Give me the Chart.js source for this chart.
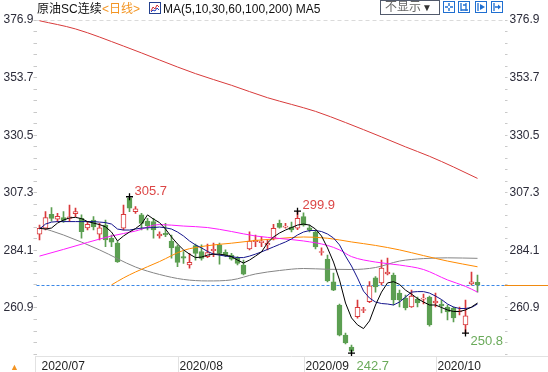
<!DOCTYPE html>
<html>
<head>
<meta charset="utf-8">
<script src="https://cdn.jsdelivr.net/npm/chart.js@4.4.0/dist/chart.umd.min.js"></script>
<style>
  html, body { margin: 0; padding: 0; background: #fff; }
  #wrap { position: relative; width: 548px; height: 372px; overflow: hidden;
          font-family: "Liberation Sans", Arial, "Noto Sans CJK SC", sans-serif; font-size: 12px; }
  #c { position: absolute; left: 0; top: 0; }
  .t { position: absolute; top: 2px; line-height: 14px; white-space: nowrap; color: #111; }
  .ico { position: absolute; top: 1px; }
  #sel { position: absolute; left: 380px; top: 0; width: 58px; height: 13px; border: 1px solid #525a6c;
         line-height: 13px; font-size: 12px; color: #666; white-space: nowrap; box-sizing: content-box; }
</style>
</head>
<body>
<div id="wrap">
  <canvas id="c" width="548" height="372"></canvas>

  <!-- titre + légende des moyennes -->
  <span class="t" style="left:37px">原油SC连续</span>
  <span class="t" style="left:102px;color:#f39422">&lt;日线&gt;</span>
  <svg class="ico" style="left:149px;top:2px" width="12" height="12" viewBox="0 0 12 12">
    <rect x="0.5" y="0.5" width="11" height="11" fill="#fff" stroke="#23408e"/>
    <polyline points="2,9 4,5 6,7 8,3 10,5" fill="none" stroke="#d03030" stroke-width="1"/>
    <polyline points="2,10 4,8 6,9 8,6 10,8" fill="none" stroke="#2040c0" stroke-width="1"/>
  </svg>
  <span class="t" style="left:163px">MA(5,10,30,60,100,200) MA5</span>

  <!-- boutons en haut à droite -->
  <div id="sel"><span style="margin-left:4px">不显示</span><span style="font-size:10px;color:#333;margin-left:1px">▼</span></div>
  <svg class="ico" style="left:443px" width="12" height="12" viewBox="0 0 12 12">
    <rect x="0.5" y="0.5" width="11" height="11" fill="#fff" stroke="#1f6fd1"/>
    <path d="M6 2V5M6 7V10M2 6H5M7 6H10" stroke="#1f6fd1" stroke-width="1.4"/>
  </svg>
  <svg class="ico" style="left:458px" width="12" height="12" viewBox="0 0 12 12">
    <rect x="0.5" y="0.5" width="11" height="11" fill="#fff" stroke="#1f6fd1"/>
    <path d="M3 2V10M8 2V10M3 9H10M5 4H8" stroke="#1f6fd1" stroke-width="1.3"/>
  </svg>
  <svg class="ico" style="left:475px" width="12" height="12" viewBox="0 0 12 12">
    <rect x="0.5" y="0.5" width="11" height="11" fill="#fff" stroke="#1f6fd1"/>
    <path d="M3 2V10" stroke="#1f6fd1" stroke-width="1.3"/><path d="M5 3L10 6L5 9Z" fill="#1f6fd1"/>
  </svg>
  <svg class="ico" style="left:491px" width="12" height="12" viewBox="0 0 12 12">
    <rect x="0.5" y="0.5" width="11" height="11" fill="#fff" stroke="#1f6fd1"/>
    <path d="M3 2V10M4 6H8" stroke="#1f6fd1" stroke-width="1.3"/><path d="M7 3.5L10 6L7 8.5Z" fill="#1f6fd1"/>
  </svg>
  <span style="position:absolute;left:10px;top:362px;font-size:9px;color:#f39422">▲</span>
</div>

<script>
// séances affichées (jours de bourse)
const dates = [
  '2020/07/01','2020/07/02','2020/07/03','2020/07/06','2020/07/07','2020/07/08','2020/07/09','2020/07/10',
  '2020/07/13','2020/07/14','2020/07/15','2020/07/16','2020/07/17','2020/07/20','2020/07/21','2020/07/22',
  '2020/07/23','2020/07/24','2020/07/27','2020/07/28','2020/07/29','2020/07/30','2020/07/31',
  '2020/08/03','2020/08/04','2020/08/05','2020/08/06','2020/08/07','2020/08/10','2020/08/11','2020/08/12',
  '2020/08/13','2020/08/14','2020/08/17','2020/08/18','2020/08/19','2020/08/20','2020/08/21','2020/08/24',
  '2020/08/25','2020/08/26','2020/08/27','2020/08/28','2020/08/31',
  '2020/09/01','2020/09/02','2020/09/03','2020/09/04','2020/09/07','2020/09/08','2020/09/09','2020/09/10',
  '2020/09/11','2020/09/14','2020/09/15','2020/09/16','2020/09/17','2020/09/18','2020/09/21','2020/09/22',
  '2020/09/23','2020/09/24','2020/09/25','2020/09/28','2020/09/29','2020/09/30',
  '2020/10/09','2020/10/12','2020/10/13','2020/10/14','2020/10/15','2020/10/16','2020/10/19','2020/10/20'
];

// OHLC
const open = [
  290.6,293.0,298.6,296.7,297.3,297.0,298.9,297.0,293.2,296.3,
  290.6,294.3,289.0,287.0,293.0,305.1,299.7,298.4,295.9,295.7,
  289.9,291.0,287.9,285.6,281.6,278.2,286.0,283.6,281.6,284.0,
  286.3,283.3,282.2,280.9,278.2,284.7,287.6,287.2,286.3,289.0,
  295.0,293.5,293.5,293.0,297.7,293.2,291.5,283.3,280.6,271.4,
  262.1,250.0,245.2,257.4,259.9,263.4,273.0,271.0,274.6,274.2,
  266.9,264.9,261.3,264.5,264.5,265.3,262.9,262.5,261.3,260.9,
  259.3,254.1,270.6,271.2
];
const high = [
  294.3,299.7,301.3,299.0,299.7,302.4,301.1,298.4,295.7,297.7,
  295.0,296.3,290.3,287.6,302.4,305.7,301.7,299.0,297.0,297.0,
  291.6,295.0,290.3,286.3,283.6,282.9,286.6,286.3,286.6,287.0,
  287.0,284.3,282.9,281.6,280.2,291.6,290.3,289.6,288.3,294.6,
  296.3,295.0,295.5,299.9,299.2,294.3,292.3,285.1,282.2,275.0,
  262.5,250.8,246.0,264.1,261.2,271.5,273.6,280.2,281.0,275.0,
  268.1,266.1,268.1,265.3,266.5,265.7,266.9,264.1,262.1,261.3,
  261.3,264.1,275.4,274.2
];
const low = [
  288.3,292.3,295.9,295.7,295.4,295.7,297.7,289.0,292.3,292.3,
  288.3,285.6,285.6,279.3,292.3,299.7,299.0,292.3,292.3,289.0,
  289.0,289.6,281.0,277.5,278.9,276.9,280.2,280.2,281.2,281.6,
  278.5,281.6,280.2,278.2,274.2,284.3,285.6,285.6,284.3,288.3,
  293.0,293.0,291.5,292.4,293.9,291.5,284.7,282.2,271.4,267.9,
  249.6,246.4,242.7,256.8,259.0,263.0,267.3,270.2,274.2,262.1,
  261.3,260.1,261.1,261.3,262.5,253.6,261.3,258.9,256.1,255.3,
  258.1,250.8,270.2,267.3
];
const close = [
  293.0,297.3,297.0,297.8,296.2,297.6,299.7,291.6,294.6,293.6,
  293.2,288.3,287.4,279.5,298.6,301.1,300.8,295.0,294.1,292.3,
  290.7,290.3,285.1,279.3,281.0,279.3,282.9,280.9,283.2,284.5,
  282.9,282.2,280.6,278.9,274.5,287.9,288.3,287.9,287.0,293.0,
  293.4,293.9,292.3,297.0,294.3,292.3,285.5,283.6,271.8,268.1,
  250.0,246.8,243.5,261.2,260.3,269.8,269.4,277.0,275.4,264.1,
  264.1,260.9,265.7,262.9,264.9,254.1,263.7,261.7,259.3,256.9,
  259.7,257.7,271.4,270.2
];

// moyennes mobiles
const ma5 = [
  293.0,292.7,293.1,295.1,296.3,297.2,297.4,296.9,295.7,295.1,
  294.5,293.6,291.5,287.9,289.9,291.5,292.9,294.7,298.4,296.7,
  295.3,292.7,289.5,286.7,284.3,282.6,281.2,281.4,282.2,282.6,
  282.6,282.2,281.6,280.2,279.0,280.2,281.8,283.5,287.1,289.5,
  291.1,292.3,293.3,294.3,294.7,294.3,292.7,289.9,285.1,279.4,
  272.2,262.9,256.9,254.1,252.6,255.7,262.1,267.3,271.0,271.5,
  270.4,268.1,266.5,264.7,263.3,262.1,262.1,261.1,260.1,259.5,
  259.5,260.1,261.3,262.9
];
const ma10 = [
  292.7,294.7,295.5,295.7,295.7,295.7,295.7,295.7,295.7,295.7,
  295.5,295.3,294.7,292.7,292.3,292.3,292.7,293.1,293.2,293.3,
  293.5,293.2,292.7,291.5,289.9,287.9,286.3,285.1,283.7,282.6,
  282.2,281.8,281.6,281.2,281.2,281.8,282.6,283.5,284.5,285.5,
  286.5,287.5,288.7,290.3,291.5,292.1,292.1,291.7,290.7,289.1,
  286.3,281.8,277.8,273.0,267.7,264.9,263.3,262.7,262.5,262.1,
  263.3,265.3,267.3,267.5,267.5,266.9,265.7,264.3,262.5,261.3,
  260.7,260.7,261.1,262.5
];
const ma30Idx = [0,4,8,12,16,20,24,28,32,36,40,44,48,50,52,56,60,64,68,71,73];
const ma30 = [281.8,284.5,287.3,289.9,291.9,294.5,293.9,293.3,291.7,289.9,288.9,287.9,286.1,284.3,281.6,279.4,278.2,276.4,272.2,269.6,267.3];
const ma60Idx = [12,14,16,20,24,28,32,36,40,44,48,52,56,60,64,68,73];
const ma60 = [270.2,273.0,275.4,279.6,284.1,286.0,287.0,288.1,288.9,289.5,289.0,287.5,286.1,284.3,282.0,279.8,277.5];
const ma100Idx = [0,4,10,16,20,24,28,32,36,40,44,48,52,56,60,64,68,73];
const ma100 = [293.5,290.3,284.3,277.4,274.4,272.4,271.8,272.2,274.6,276.0,276.8,276.5,276.4,277.2,279.8,280.8,281.1,280.9];
const ma200Idx = [0,6,14,26,32,38,42,46,51,57,61,65,69,73];
const ma200 = [376.6,373.3,366.4,355.3,350.6,345.6,342.9,340.1,335.6,329.8,325.8,322.0,317.7,313.1];

// axe des prix
const yTickLabels = [376.9, 353.7, 330.5, 307.3, 284.1, 260.9];
const Y_MIN = 241.56, Y_MAX = 378.11;

// points extrêmes marqués
const peaks = [
  { i: 15, kind: 'high', dy: -2 },
  { i: 43, kind: 'high', dy: -2 },
  { i: 52, kind: 'low', dy: 17 },
  { i: 71, kind: 'low', dy: 12 }
];

const RED = '#d9393b', GREEN = '#5c9f52', AXIS_TXT = '#2c2c3a';
const up = close.map((c, i) => c >= open[i]);
const slots = dates.concat(['+1', '+2', '+3', '+4']);   // place vide à droite
const monthTicks = dates.map((d, i) => (i === 0 || d.slice(0, 7) !== dates[i - 1].slice(0, 7)) ? d.slice(0, 7) : '');

const minorStep = (yTickLabels[0] - yTickLabels[1]) / 5;
const axisTicks = [];
for (let v = yTickLabels[0]; v > Y_MIN; v -= minorStep) axisTicks.push(+v.toFixed(2));
axisTicks.reverse();
const isMajor = v => yTickLabels.some(t => Math.abs(t - v) < 0.01);

const pts = (idx, vals) => idx.map((k, j) => ({ x: dates[k], y: vals[j] }));
const maLine = (data, color, order, smooth) => ({
  type: 'line', data, borderColor: color, borderWidth: 1, pointRadius: 0,
  tension: smooth ? 0.4 : 0, cubicInterpolationMode: smooth ? 'monotone' : 'default', order
});

Chart.defaults.font.family = '"Liberation Sans", Arial, sans-serif';
Chart.defaults.font.size = 12;

const extras = {
  id: 'extras',
  beforeDatasetsDraw(chart) {
    const { ctx, chartArea: a, scales: { x, y } } = chart;
    ctx.save();
    ctx.lineWidth = 1;
    // ligne pointillée du haut
    const yt = Math.round(y.getPixelForValue(yTickLabels[0])) + 0.5;
    ctx.strokeStyle = '#dadada';
    ctx.setLineDash([4, 3]);
    ctx.beginPath(); ctx.moveTo(a.left, yt); ctx.lineTo(a.right, yt); ctx.stroke();
    // dernier cours
    const yp = Math.round(y.getPixelForValue(close[close.length - 1])) + 0.5;
    ctx.strokeStyle = '#3b87e6';
    ctx.setLineDash([3, 2]);
    ctx.beginPath(); ctx.moveTo(a.left, yp); ctx.lineTo(a.right, yp); ctx.stroke();
    ctx.setLineDash([]);
    ctx.strokeStyle = '#f08a10';
    ctx.beginPath(); ctx.moveTo(a.right, yp); ctx.lineTo(chart.width, yp); ctx.stroke();
    // bordures
    ctx.strokeStyle = '#e2e2e2';
    ctx.beginPath(); ctx.moveTo(35, a.bottom + 0.5); ctx.lineTo(chart.width, a.bottom + 0.5); ctx.stroke();
    ctx.beginPath(); ctx.moveTo(35.5, a.bottom); ctx.lineTo(35.5, chart.height); ctx.stroke();
    monthTicks.forEach((m, i) => {
      if (!m || i === 0) return;
      const px = Math.round(x.getPixelForValue(i)) + 0.5;
      ctx.beginPath(); ctx.moveTo(px, a.bottom); ctx.lineTo(px, chart.height); ctx.stroke();
    });
    ctx.restore();
  },
  afterDatasetsDraw(chart) {
    const { ctx, scales: { x, y } } = chart;
    ctx.save();
    ctx.font = '13px "Liberation Sans", Arial, sans-serif';
    ctx.textAlign = 'left';
    ctx.textBaseline = 'alphabetic';
    peaks.forEach(p => {
      const v = p.kind === 'high' ? high[p.i] : low[p.i];
      ctx.fillStyle = p.kind === 'high' ? '#dc4646' : '#6aaa5a';
      ctx.fillText(v.toFixed(1), x.getPixelForValue(p.i) + 5, y.getPixelForValue(v) + p.dy);
    });
    ctx.restore();
  }
};

new Chart(document.getElementById('c'), {
  type: 'bar',
  data: {
    labels: slots,
    datasets: [
      {
        type: 'line', showLine: false, order: 0,
        data: peaks.map(p => ({ x: dates[p.i], y: p.kind === 'high' ? high[p.i] : low[p.i] })),
        pointStyle: 'cross', pointRadius: 3.5, pointBorderColor: '#000', pointBorderWidth: 1.3
      },
      maLine(ma5, '#000000', 1, false),
      maLine(ma10, '#14148c', 2, false),
      maLine(pts(ma30Idx, ma30), '#ff1cff', 3, true),
      maLine(pts(ma60Idx, ma60), '#ff8a00', 4, true),
      maLine(pts(ma100Idx, ma100), '#858585', 5, true),
      maLine(pts(ma200Idx, ma200), '#d83b3b', 6, true),
      {
        // corps des bougies
        data: open.map((o, i) => [o, close[i]]),
        backgroundColor: up.map(u => u ? '#ffffff' : GREEN),
        borderColor: up.map(u => u ? RED : GREEN),
        borderWidth: 1, borderSkipped: false,
        barThickness: 5, grouped: false, order: 7
      },
      {
        // mèches
        data: low.map((l, i) => [l, high[i]]),
        backgroundColor: up.map(u => u ? RED : GREEN),
        borderWidth: 0, barThickness: 1, grouped: false, order: 8
      }
    ]
  },
  options: {
    responsive: false,
    animation: false,
    devicePixelRatio: 1,
    layout: { padding: { top: 17, left: 0, right: 0, bottom: 0 } },
    plugins: { legend: { display: false }, tooltip: { enabled: false } },
    scales: {
      x: {
        offset: true,
        grid: { display: false, drawTicks: false },
        border: { display: false },
        ticks: {
          autoSkip: false, maxRotation: 0, minRotation: 0, align: 'start', labelOffset: 2, padding: 3,
          color: '#1e1e1e', font: { size: 12 },
          callback: (v, i) => monthTicks[i] || ''
        },
        afterFit: s => { s.height = 16; }
      },
      y: {
        position: 'left', min: Y_MIN, max: Y_MAX,
        afterBuildTicks: s => { s.ticks = axisTicks.map(v => ({ value: v })); },
        ticks: { autoSkip: false, padding: 0, color: AXIS_TXT, font: { size: 12 },
                 callback: v => isMajor(v) ? v.toFixed(1) : '' },
        grid: { drawOnChartArea: false, drawTicks: true, tickLength: 3, color: '#c9c9c9' },
        border: { display: false },
        afterFit: s => { s.width = 36.5; }
      },
      y2: {
        position: 'right', min: Y_MIN, max: Y_MAX,
        afterBuildTicks: s => { s.ticks = axisTicks.map(v => ({ value: v })); },
        ticks: { autoSkip: false, padding: 2, color: AXIS_TXT, font: { size: 12 },
                 callback: v => isMajor(v) ? v.toFixed(1) : '' },
        grid: { drawOnChartArea: false, drawTicks: true, tickLength: 3, color: '#c9c9c9' },
        border: { display: false },
        afterFit: s => { s.width = 43.5; }
      }
    }
  },
  plugins: [extras]
});
</script>
</body>
</html>
